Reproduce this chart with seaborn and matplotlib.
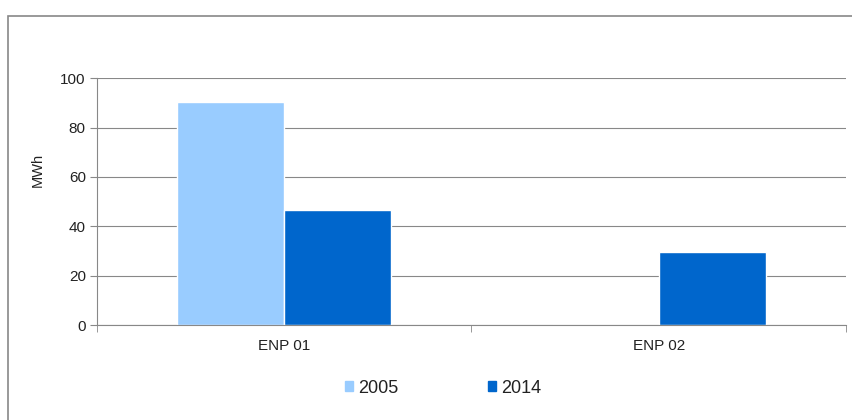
import matplotlib

matplotlib.use('Agg')
import matplotlib.pyplot as plt
import seaborn as sns
import pandas as pd
from matplotlib.patches import Rectangle

sites = ['ENP 01', 'ENP 02']
years = ['2005', '2014']
mwh_2005 = [90.5, 0]
mwh_2014 = [46.8, 29.6]
colors = ['#99ccff', '#0066cc']

sns.set_style('white')
plt.rcParams['font.family'] = ['Liberation Sans', 'DejaVu Sans']

df = pd.DataFrame({
    'site': sites * 2,
    'year': [years[0]] * len(sites) + [years[1]] * len(sites),
    'MWh': mwh_2005 + mwh_2014,
})

fig = plt.figure(figsize=(8.52, 4.2), dpi=100)
ax = fig.add_axes([0.1138, 0.226, 0.8792, 0.588])
sns.barplot(data=df, x='site', y='MWh', hue='year', palette=colors,
            width=0.57, saturation=1, ax=ax, legend=False)

ax.set_xlim(-0.5, 1.5)
ax.set_ylim(0, 100)
ax.set_yticks(range(0, 101, 20))
ax.yaxis.grid(True, color='#888888', lw=0.8)
ax.set_axisbelow(True)
for s in ['top', 'right']:
    ax.spines[s].set_visible(False)
for s in ['left', 'bottom']:
    ax.spines[s].set_color('#888888')
    ax.spines[s].set_linewidth(0.8)

ax.tick_params(axis='y', length=5, color='#888888', labelsize=11, left=True, pad=3,
               labelcolor='#222222')
ax.tick_params(axis='x', which='major', length=0, labelsize=11, pad=10,
               labelcolor='#222222')
ax.set_xticks([-0.5, 0.5, 1.5], minor=True)
ax.tick_params(axis='x', which='minor', length=5, color='#888888', bottom=True)
ax.set_xlabel('')
ax.set_ylabel('MWh', fontsize=10.5, color='#222222')
ax.yaxis.set_label_coords(-0.07, 0.63)

handles = [Rectangle((0, 0), 1, 1, color=c) for c in colors]
fig.legend(handles, years, loc='center', bbox_to_anchor=(0.52, 0.076), ncol=2,
           frameon=False, fontsize=13, handlelength=0.42, handleheight=0.42,
           handletextpad=0.28, columnspacing=5, labelcolor='#222222')

fig.patches.append(Rectangle((0.0094, -0.1), 1.1, 1.062, transform=fig.transFigure,
                             fill=False, edgecolor='#888888', lw=1.2))

plt.savefig('out.png', dpi=100)
